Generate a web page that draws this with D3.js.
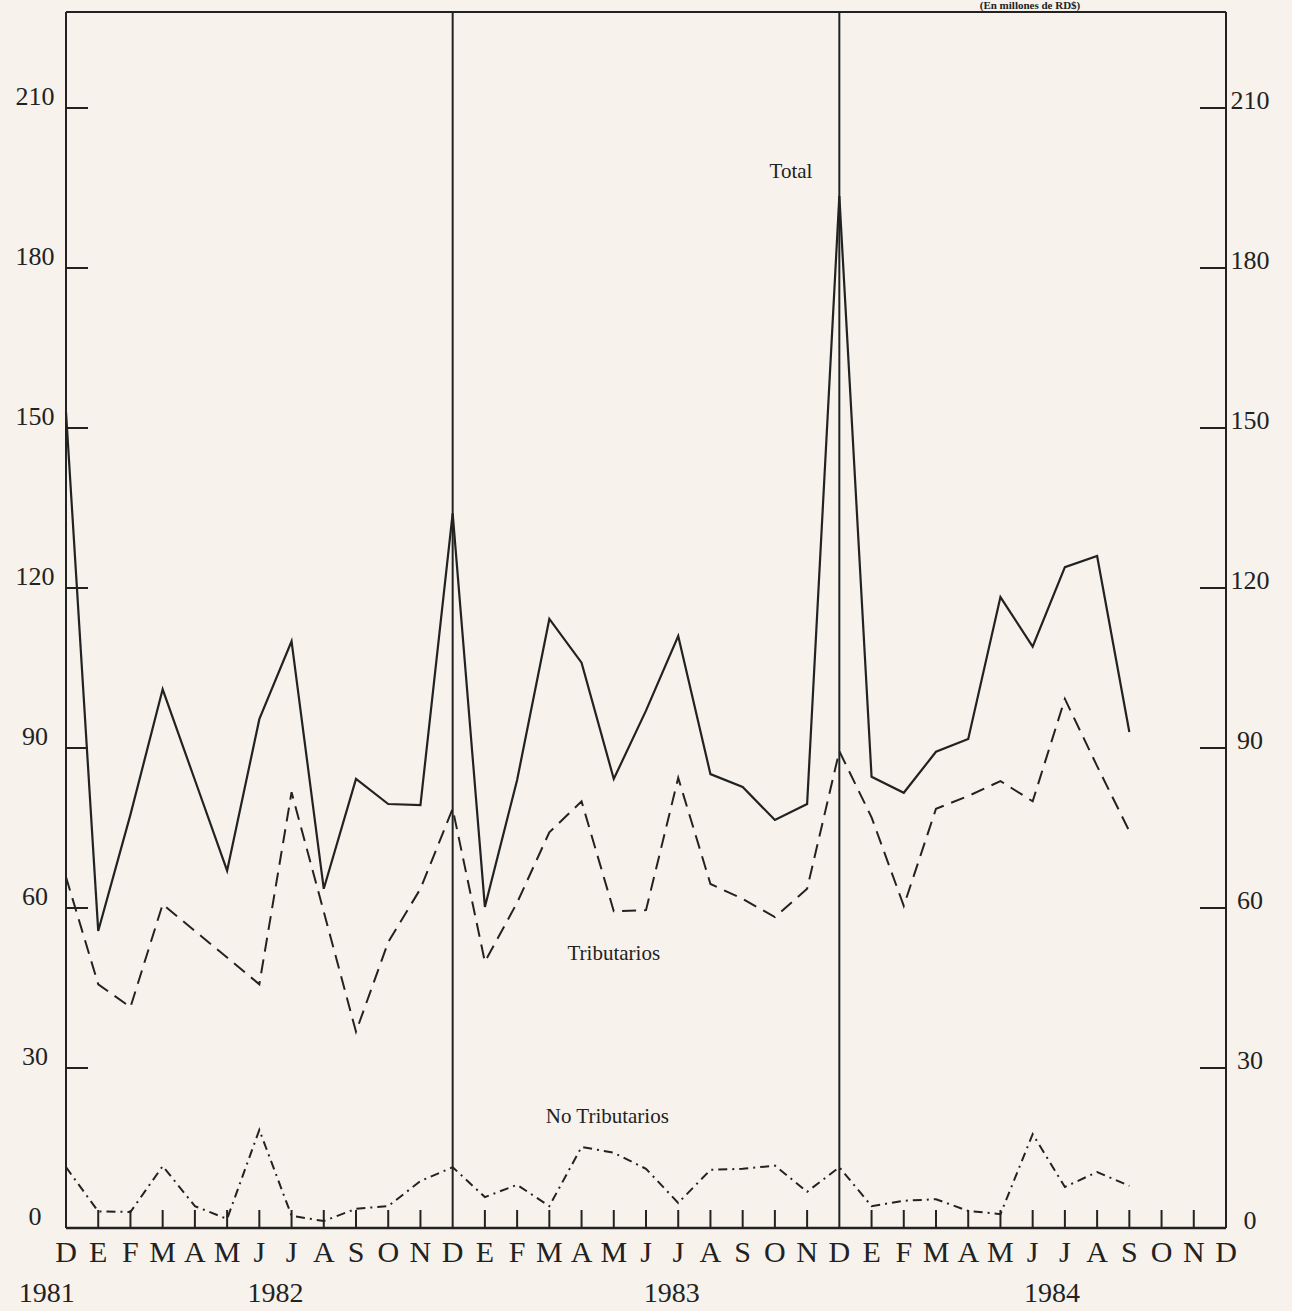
<!DOCTYPE html>
<html>
<head>
<meta charset="utf-8">
<script src="https://cdn.jsdelivr.net/npm/d3@7"></script>
<style>
  body { margin: 0; background: #f7f3ec; }
  svg { display: block; }
  .lbl { font-family: "Liberation Serif", "DejaVu Serif", serif; fill: #222; }
</style>
</head>
<body>
<div id="chart"></div>
<script>
// months from Dec 1981 (index 0) to Dec 1984 (index 36)
var monthLetters = ["D", "E", "F", "M", "A", "M", "J", "J", "A", "S", "O", "N"];
var years = ["1981", "1982", "1983", "1984"];
var yTicks = [0, 30, 60, 90, 120, 150, 180, 210];

// millones de RD$, Dec 1981 .. Sep 1984
var total = [153, 55.7, 77.5, 101, 84, 67, 95.4, 110, 63.6, 84.2, 79.5, 79.3,
  134, 60.2, 84, 114.2, 106, 84.2, 97, 111, 85.1, 82.7, 76.5, 79.5,
  193.5, 84.6, 81.6, 89.3, 91.7, 118.3, 109, 123.9, 126, 93];
var tributarios = [65.8, 45.7, 41.4, 60.7, 55.7, 50.7, 45.7, 81.7, 59.3, 36.8, 53.6, 63.6,
  78.6, 49.9, 61, 74.2, 80, 59.4, 59.6, 84.4, 64.5, 61.7, 58.3, 63.6,
  89.4, 77, 60.4, 78.6, 81, 83.8, 80, 99.2, 86.6, 74.4];
var noTributarios = [11.4, 3.1, 3.0, 11.6, 4.1, 1.7, 18.4, 2.3, 1.3, 3.6, 4.1, 8.8,
  11.4, 5.8, 8.1, 4.1, 15.2, 14.1, 11.1, 4.7, 10.9, 11.1, 11.7, 6.8,
  11.4, 4.1, 5.1, 5.4, 3.2, 2.6, 17.6, 7.7, 10.5, 7.9];

var svgWidth = 1292;
var svgHeight = 1311;
var margin = { top: 12, right: 66, bottom: 83, left: 66 };
var width = svgWidth - margin.left - margin.right;
var height = svgHeight - margin.top - margin.bottom;
var ink = "#222";

var svg = d3.select("#chart")
  .append("svg")
  .attr("width", svgWidth)
  .attr("height", svgHeight);

var chartGroup = svg.append("g")
  .attr("transform", `translate(${margin.left}, ${margin.top})`);

// scales
var xScale = d3.scaleLinear().domain([0, 36]).range([0, width]);
var yScale = d3.scaleLinear().domain([0, 210]).range([height, height - 1120]);

// frame: top line, bottom line, side axes and the December separators
chartGroup.append("line")
  .attr("x1", 0).attr("x2", width).attr("y1", 0).attr("y2", 0)
  .attr("stroke", ink).attr("stroke-width", 2);

chartGroup.append("line")
  .attr("x1", 0).attr("x2", width).attr("y1", height).attr("y2", height)
  .attr("stroke", ink).attr("stroke-width", 2.5);

chartGroup.selectAll(".sep")
  .data([0, 12, 24, 36])
  .enter()
  .append("line")
  .attr("x1", d => xScale(d)).attr("x2", d => xScale(d))
  .attr("y1", 0).attr("y2", height)
  .attr("stroke", ink).attr("stroke-width", 2);

// month ticks
var monthIdx = d3.range(0, 37).filter(d => d % 12 !== 0);
chartGroup.selectAll(".mtick")
  .data(monthIdx)
  .enter()
  .append("line")
  .attr("x1", d => xScale(d)).attr("x2", d => xScale(d))
  .attr("y1", height - 18).attr("y2", height)
  .attr("stroke", ink).attr("stroke-width", 2);

// y ticks, left and right (inward)
chartGroup.selectAll(".ltick")
  .data(yTicks)
  .enter()
  .append("line")
  .attr("x1", 0).attr("x2", 22)
  .attr("y1", d => yScale(d)).attr("y2", d => yScale(d))
  .attr("stroke", ink).attr("stroke-width", 2);

chartGroup.selectAll(".rtick")
  .data(yTicks)
  .enter()
  .append("line")
  .attr("x1", width - 26).attr("x2", width)
  .attr("y1", d => yScale(d)).attr("y2", d => yScale(d))
  .attr("stroke", ink).attr("stroke-width", 2);

chartGroup.selectAll(".llab")
  .data(yTicks)
  .enter()
  .append("text")
  .attr("class", "lbl")
  .attr("x", -31)
  .attr("y", d => yScale(d) - 3)
  .attr("text-anchor", "middle")
  .attr("font-size", 26)
  .text(d => d);

chartGroup.selectAll(".rlab")
  .data(yTicks)
  .enter()
  .append("text")
  .attr("class", "lbl")
  .attr("x", width + 24)
  .attr("y", d => yScale(d) + 1)
  .attr("text-anchor", "middle")
  .attr("font-size", 26)
  .text(d => d);

// month letters and years
chartGroup.selectAll(".mlab")
  .data(d3.range(0, 37))
  .enter()
  .append("text")
  .attr("class", "lbl")
  .attr("x", d => xScale(d))
  .attr("y", height + 34)
  .attr("text-anchor", "middle")
  .attr("font-size", 30)
  .text(d => monthLetters[d % 12]);

var yearPos = [-0.6, 6.5, 18.8, 30.6];
chartGroup.selectAll(".ylab")
  .data(years)
  .enter()
  .append("text")
  .attr("class", "lbl")
  .attr("x", (d, i) => xScale(yearPos[i]))
  .attr("y", height + 74)
  .attr("text-anchor", "middle")
  .attr("font-size", 28)
  .text(d => d);

// series lines
var line = d3.line()
  .x((d, i) => xScale(i))
  .y(d => yScale(d));

chartGroup.append("path")
  .datum(total)
  .attr("d", line)
  .attr("fill", "none")
  .attr("stroke", ink)
  .attr("stroke-width", 2.2)
  .attr("stroke-linejoin", "miter");

chartGroup.append("path")
  .datum(tributarios)
  .attr("d", line)
  .attr("fill", "none")
  .attr("stroke", ink)
  .attr("stroke-width", 2)
  .attr("stroke-dasharray", "14,8");

chartGroup.append("path")
  .datum(noTributarios)
  .attr("d", line)
  .attr("fill", "none")
  .attr("stroke", ink)
  .attr("stroke-width", 2)
  .attr("stroke-dasharray", "9,5,2,5");

// series names
chartGroup.append("text")
  .attr("class", "lbl")
  .attr("x", xScale(22.5))
  .attr("y", 166)
  .attr("text-anchor", "middle")
  .attr("font-size", 21)
  .text("Total");

chartGroup.append("text")
  .attr("class", "lbl")
  .attr("x", xScale(17.0))
  .attr("y", 948)
  .attr("text-anchor", "middle")
  .attr("font-size", 21)
  .text("Tributarios");

chartGroup.append("text")
  .attr("class", "lbl")
  .attr("x", xScale(16.8))
  .attr("y", 1111)
  .attr("text-anchor", "middle")
  .attr("font-size", 21)
  .text("No Tributarios");

// unit note above the frame, right side
svg.append("text")
  .attr("class", "lbl")
  .attr("x", 1030)
  .attr("y", 9)
  .attr("text-anchor", "middle")
  .attr("font-size", 11)
  .attr("font-weight", "bold")
  .text("(En millones de RD$)");
</script>
</body>
</html>
